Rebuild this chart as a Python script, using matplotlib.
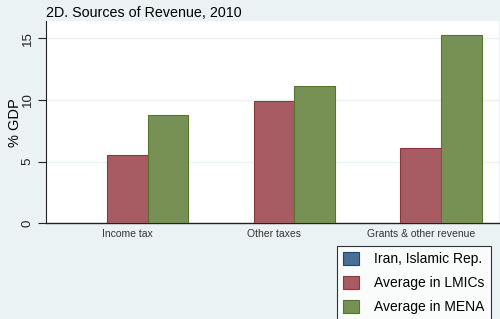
import matplotlib
matplotlib.use("Agg")
import matplotlib.pyplot as plt
from matplotlib.patches import Patch
import numpy as np

plt.rcParams['font.family'] = ['Liberation Sans', 'DejaVu Sans']

categories = ["Income tax", "Other taxes", "Grants & other revenue"]
series_names = ["Iran, Islamic Rep.", "Average in LMICs", "Average in MENA"]
iran = [np.nan, np.nan, np.nan]
lmics = [5.5, 9.9, 6.1]
mena = [8.8, 11.1, 15.3]
yticks = [0, 5, 10, 15]

fills = ["#4a6f94", "#a65c62", "#779155"]
edges = ["#1a476f", "#90353b", "#55752f"]
bg = "#eaf2f3"

fig = plt.figure(figsize=(5, 3.19), dpi=100, facecolor=bg)
ax = fig.add_axes([46/500, 1-223.3/319, 453/500, (223.3-21)/319])
ax.set_facecolor("white")

centers = np.arange(len(categories)) * 3.6
for i, vals in enumerate([iran, lmics, mena]):
    ax.bar(centers + (i - 1), vals, width=1.0, color=fills[i],
           edgecolor=edges[i], linewidth=0.8, zorder=3)

ax.set_xlim(-1.99, centers[-1] + 1.92)
ax.set_ylim(0, 16.4)
ax.set_yticks(yticks)
ax.set_yticklabels([str(t) for t in yticks], rotation=90, va='center', fontsize=9.5)
ax.set_xticks(centers)
ax.set_xticklabels(categories, fontsize=7.5, color='#333333')
ax.tick_params(axis='x', length=0, pad=4)
ax.tick_params(axis='y', length=6, width=0.8, pad=3, colors='#222222')
for t in yticks[1:]:
    ax.axhline(t, color=bg, linewidth=1.0, zorder=1)
for s in ['top', 'right']:
    ax.spines[s].set_visible(False)
ax.spines['left'].set_color('#222222')
ax.spines['bottom'].set_color('#222222')
ax.spines['left'].set_linewidth(0.8)
ax.spines['bottom'].set_linewidth(1.0)
ax.set_ylabel("% GDP", fontsize=10.5, va='center')
ax.yaxis.set_label_coords(-31/453, 0.5)

fig.text(46/500, 1-13/319, "2D. Sources of Revenue, 2010", fontsize=10.3,
         ha='left', va='center')

handles = [Patch(facecolor=fills[i], edgecolor=edges[i], linewidth=0.8)
           for i in range(3)]
leg = fig.legend(handles, series_names, loc='upper left',
                 bbox_to_anchor=(337/500, 1-246/319), fontsize=10,
                 frameon=True, fancybox=False, edgecolor='black',
                 handlelength=1.15, handleheight=1.0, handletextpad=1.1,
                 labelspacing=0.72, borderpad=0.45, borderaxespad=0)
leg.get_frame().set_linewidth(0.8)

fig.savefig("out.png", dpi=100, facecolor=bg)
